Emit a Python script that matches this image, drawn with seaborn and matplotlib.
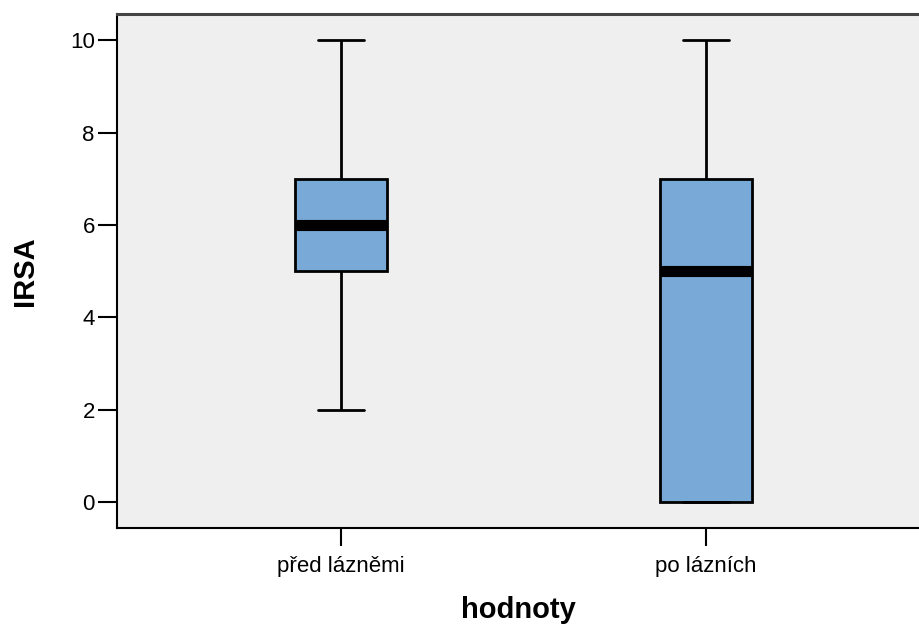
import numpy as np
import pandas as pd
import matplotlib
matplotlib.use("Agg")
import matplotlib.pyplot as plt
import seaborn as sns

categories = ["před lázněmi", "po lázních"]
# raw scores chosen to reproduce the box statistics
pred_values = [2, 5, 5, 6, 6, 6, 7, 7, 10]
po_values = [0, 0, 0, 5, 5, 5, 7, 7, 10]
y_ticks = [0, 2, 4, 6, 8, 10]

df = pd.DataFrame({
    "hodnoty": [categories[0]] * len(pred_values) + [categories[1]] * len(po_values),
    "IRSA": pred_values + po_values,
})

sns.set_style("ticks")
plt.rcParams["font.family"] = ["Liberation Sans", "DejaVu Sans"]
plt.rcParams["text.color"] = "black"
plt.rcParams["axes.labelcolor"] = "black"
plt.rcParams["xtick.color"] = "black"
plt.rcParams["ytick.color"] = "black"

fig = plt.figure(figsize=(9.19, 6.28), dpi=100)
ax = fig.add_axes([0.1273, 0.1592, 0.8727, 0.8193])
ax.set_facecolor("#efefef")

lw = 2.0
sns.boxplot(data=df, x="hodnoty", y="IRSA", order=categories, ax=ax,
            color="#79a9d6", width=0.252, whis=(0, 100), linecolor="black",
            linewidth=lw, fill=True, saturation=1,
            medianprops=dict(color="black", linewidth=8, solid_capstyle="butt"),
            boxprops=dict(edgecolor="black", linewidth=lw),
            whiskerprops=dict(color="black", linewidth=lw),
            capprops=dict(color="black", linewidth=lw))

ax.set_xlim(-0.614, 1.584)
ax.set_ylim(-0.56, 10.58)
ax.set_yticks(y_ticks)
ax.set_yticklabels([str(v) for v in y_ticks])

for s in ["left", "bottom", "top"]:
    ax.spines[s].set_visible(True)
    ax.spines[s].set_color("black")
    ax.spines[s].set_linewidth(1.5)
ax.spines["top"].set_color("#444444")
ax.spines["top"].set_linewidth(2.2)
ax.spines["right"].set_visible(False)

ax.tick_params(axis="y", length=14, width=1.5, labelsize=16, pad=2, colors="black")
ax.tick_params(axis="x", length=13, width=1.5, labelsize=16, pad=7, colors="black")

ax.set_xlabel("hodnoty", fontsize=21, fontweight="bold", labelpad=14, color="black")
ax.set_ylabel("IRSA", fontsize=21, fontweight="bold", labelpad=22, color="black")

fig.savefig("out.png", dpi=100)
